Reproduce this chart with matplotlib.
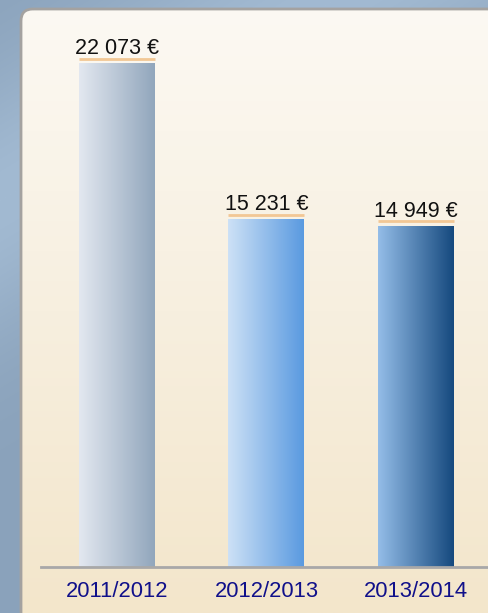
import numpy as np
import matplotlib
matplotlib.use("Agg")
import matplotlib.pyplot as plt
from matplotlib.colors import LinearSegmentedColormap
from matplotlib.patches import FancyBboxPatch

plt.rcParams['font.family'] = ['Liberation Sans', 'DejaVu Sans']

# data
years = ['2011/2012', '2012/2013', '2013/2014']
amounts = [22073, 15231, 14949]
labels = ['22 073 €', '15 231 €', '14 949 €']
bar_colors = [('#e3e8f0', '#91a6bc'), ('#cde1f6', '#5a9ae0'), ('#94bde8', '#15497e')]

W, H = 488, 613
fig = plt.figure(figsize=(W / 100, H / 100), dpi=100)

# background: blue-grey outer + cream panel
bg = fig.add_axes([0, 0, 1, 1])
bg.set_xlim(0, W)
bg.set_ylim(H, 0)
bg.axis('off')
yy, xx = np.mgrid[0:H, 0:W]
band = np.exp(-((xx * 0.6 + yy - 200) / 140.0) ** 2)
outer = np.zeros((H, W, 3))
base = np.array([0x8a, 0xa2, 0xbb]) / 255
light = np.array([0xa2, 0xba, 0xd2]) / 255
outer[:] = base
outer += (light - base) * band[..., None]
bg.imshow(outer, extent=(0, W, H, 0), aspect='auto', zorder=0)

panel = FancyBboxPatch((21, 9), W + 40, H + 40, boxstyle='round,pad=0,rounding_size=12',
                       facecolor='none', edgecolor='#a4a2a0', lw=2, zorder=3)
bg.add_patch(panel)
cream = LinearSegmentedColormap.from_list('cream', ['#fcf9f3', '#f7efdf', '#f3e6cb'])
grad = np.linspace(0, 1, 256).reshape(-1, 1)
im = bg.imshow(grad, cmap=cream, extent=(21, W + 40, H, 9), aspect='auto', zorder=2)
im.set_clip_path(panel)

# main chart
px = 0.02283  # pixels per euro
ytop = 24500
ax_h = ytop * px
ax = fig.add_axes([41 / W, (H - 567) / H, (W - 41) / W, ax_h / H])
ax.patch.set_alpha(0)
ax.set_ylim(0, ytop)
ax.set_xlim(-0.508, 2.482)
x = np.arange(len(years))
bars = ax.bar(x, amounts, width=0.508, color='none', zorder=2)
for b, (c0, c1) in zip(bars, bar_colors):
    cm = LinearSegmentedColormap.from_list('g', [c0, c1])
    x0, w, h = b.get_x(), b.get_width(), b.get_height()
    g = ax.imshow(np.linspace(0, 1, 256).reshape(1, -1), cmap=cm,
                  extent=(x0, x0 + w, 0, h), aspect='auto', zorder=2)
    g.set_clip_path(b)

for b, lab in zip(bars, labels):
    x0, w, h = b.get_x(), b.get_width(), b.get_height()
    ax.plot([x0, x0 + w], [h + 190, h + 190], color='#f2c795', lw=2, zorder=3,
            solid_capstyle='butt')
    ax.text(x0 + w / 2, h + 390, lab, ha='center', va='baseline', fontsize=15.5,
            color='#111111')

for s in ['top', 'right', 'left']:
    ax.spines[s].set_visible(False)
ax.spines['bottom'].set_color('#a8a8a8')
ax.spines['bottom'].set_linewidth(2)
ax.set_yticks([])
ax.set_xticks(x)
ax.set_xticklabels(years, fontsize=15.8, color='#10108a')
ax.tick_params(axis='x', length=0, pad=10)

fig.savefig('out.png', dpi=100)
